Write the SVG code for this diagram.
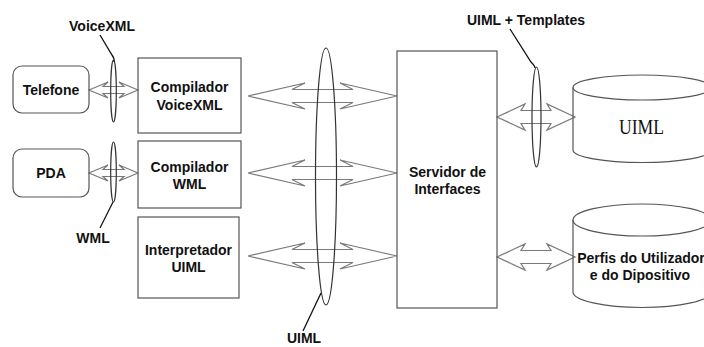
<svg xmlns="http://www.w3.org/2000/svg" width="704" height="347" viewBox="0 0 704 347">
  <style>
    .box { fill: none; stroke: #555; stroke-width: 1.2; }
    .arrow { fill: none; stroke: #7a7a7a; stroke-width: 1.2; stroke-linejoin: miter; }
    .bus { fill: none; stroke: #333; stroke-width: 1.2; }
    .leader { fill: none; stroke: #111; stroke-width: 1.3; }
    .lbl { font-family: "Liberation Sans", Arial, sans-serif; font-size: 14px; font-weight: bold; fill: #111; }
    .mid { text-anchor: middle; }
    .serif { font-family: "Liberation Serif", "Times New Roman", serif; font-size: 20px; fill: #111; text-anchor: middle; }
  </style>
  <rect width="704" height="347" fill="#fff"/>

  <!-- connectors: double-headed hollow arrows and protocol buses -->
  <g id="connectors">
    <!-- client devices to compilers -->
    <polygon class="arrow" points="89,90 108,82 103,86.5 124,86.5 119,82 138,90 119,98 124,93.5 103,93.5 108,98"/>
    <polygon class="arrow" points="89,173 108,165 103,169.5 124,169.5 119,165 138,173 119,181 124,176.5 103,176.5 108,181"/>
    <!-- compilers / interpreter to interface server -->
    <polygon class="arrow" points="248,96 305,83 292,89.5 353,89.5 340,83 397,96 340,109 353,102.5 292,102.5 305,109"/>
    <polygon class="arrow" points="248,173 305,160 292,166.5 353,166.5 340,160 397,173 340,186 353,179.5 292,179.5 305,186"/>
    <polygon class="arrow" points="248,256 305,243 292,249.5 353,249.5 340,243 397,256 340,269 353,262.5 292,262.5 305,269"/>
    <!-- interface server to repositories -->
    <polygon class="arrow" points="497,117 525,104 521,110.5 551,110.5 547,104 575,117 547,130 551,123.5 521,123.5 525,130"/>
    <polygon class="arrow" points="497,257 525,244 521,250.5 551,250.5 547,244 575,257 547,270 551,263.5 521,263.5 525,270"/>

    <!-- protocol buses -->
    <ellipse class="bus" cx="113.5" cy="91" rx="2.8" ry="31"/>
    <ellipse class="bus" cx="113.5" cy="172" rx="2.8" ry="30"/>
    <ellipse class="bus" cx="326" cy="176.5" rx="10.5" ry="128.5"/>
    <ellipse class="bus" cx="536.5" cy="117" rx="4.5" ry="50"/>

    <!-- label leaders -->
    <path class="leader" d="M100,35 L112,55 Q114.5,58 114,62"/>
    <path class="leader" d="M113,202 L110,208 L100,228"/>
    <path class="leader" d="M303,331 L321,293"/>
    <path class="leader" d="M510,29 L531,62 Q535,66 535,68"/>
  </g>

  <!-- bus labels -->
  <g id="labels">
    <text class="lbl mid" x="102" y="31">VoiceXML</text>
    <text class="lbl mid" x="93" y="243">WML</text>
    <text class="lbl mid" x="304" y="343">UIML</text>
    <text class="lbl mid" x="526" y="25">UIML + Templates</text>
  </g>

  <g id="telefone">
    <rect class="box" x="13" y="66" width="76" height="47" rx="9"/>
    <text class="lbl mid" x="51" y="95">Telefone</text>
  </g>

  <g id="pda">
    <rect class="box" x="13" y="149" width="76" height="48" rx="9"/>
    <text class="lbl mid" x="51" y="178">PDA</text>
  </g>

  <g id="compilador-voicexml">
    <rect class="box" x="138" y="58" width="103" height="75"/>
    <text class="lbl mid" x="189.5" y="92">Compilador</text>
    <text class="lbl mid" x="189.5" y="110">VoiceXML</text>
  </g>

  <g id="compilador-wml">
    <rect class="box" x="138" y="141" width="103" height="67"/>
    <text class="lbl mid" x="189.5" y="172">Compilador</text>
    <text class="lbl mid" x="189.5" y="189">WML</text>
  </g>

  <g id="interpretador-uiml">
    <rect class="box" x="138" y="217" width="101" height="81"/>
    <text class="lbl mid" x="188.5" y="255">Interpretador</text>
    <text class="lbl mid" x="188.5" y="272">UIML</text>
  </g>

  <g id="servidor">
    <rect class="box" x="397" y="51" width="100" height="257"/>
    <text class="lbl mid" x="447.5" y="177">Servidor de</text>
    <text class="lbl mid" x="447.5" y="194">Interfaces</text>
  </g>

  <g id="repositorio-uiml">
    <path class="box" d="M573,87.5 L573,150 A69,12.5 0 0 0 711,150 L711,87.5"/>
    <ellipse class="box" cx="642" cy="87.5" rx="69" ry="12.5"/>
    <text class="serif" x="641.5" y="134" textLength="45" lengthAdjust="spacingAndGlyphs">UIML</text>
  </g>

  <g id="perfis">
    <path class="box" d="M573,220 L573,292 A69,15.5 0 0 0 711,292 L711,220"/>
    <ellipse class="box" cx="642" cy="220" rx="69" ry="16"/>
    <text class="lbl mid" x="641" y="263">Perfis do Utilizador</text>
    <text class="lbl mid" x="640" y="280">e do Dipositivo</text>
  </g>
</svg>
